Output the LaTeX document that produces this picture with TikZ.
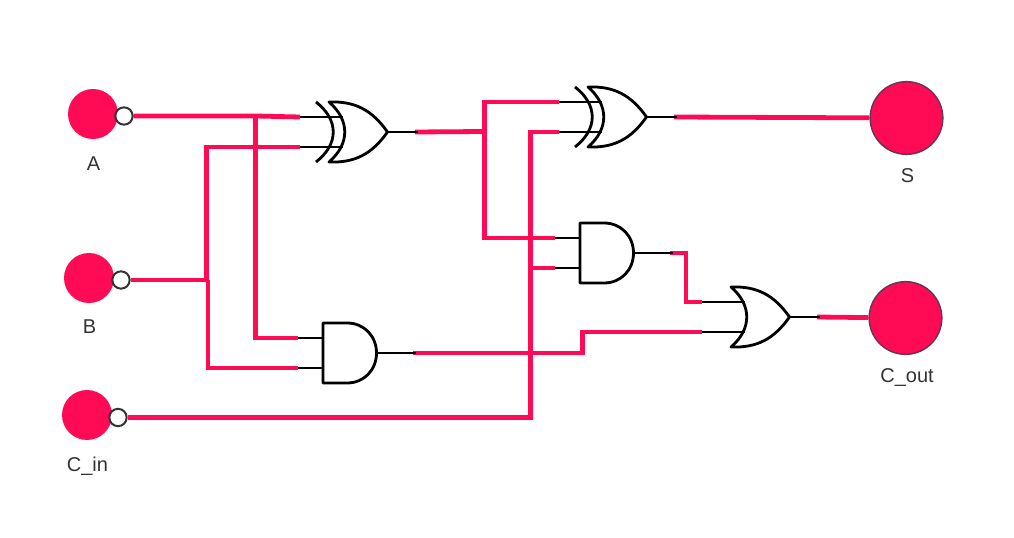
\documentclass[tikz,border=0pt]{standalone}
\usepackage{fontspec}
\setmainfont{Liberation Sans}
\usepackage{tikz}
\usetikzlibrary{backgrounds}
\definecolor{wirered}{HTML}{FF0A54}
\definecolor{pinrim}{HTML}{333333}
\definecolor{outrim}{HTML}{6E3350}
\tikzstyle{wire}=[draw=wirered,line width=3.6pt,line join=miter]
\tikzstyle{gateline}=[draw=black,line width=2.1pt,line join=round]
\tikzstyle{inport}=[circle,fill=wirered,minimum size=37.5pt,inner sep=0pt]
\tikzstyle{outport}=[circle,fill=wirered,draw=outrim,line width=1.1pt,minimum size=54.5pt,inner sep=0pt]
\tikzstyle{pin}=[circle,fill=white,draw=pinrim,line width=1.5pt,minimum size=13pt,inner sep=0pt]
\tikzstyle{label}=[anchor=base,text=pinrim,font=\fontsize{15}{18}\selectfont,inner sep=0pt]
\tikzset{
  pics/orgate/.style={code={
    \coordinate (-a) at (0,-15);
    \coordinate (-b) at (0,15);
    \coordinate (-o) at (115,0);
    \draw[gateline,fill=white] (29,-30) .. controls (55,-31) and (72,-22) .. (87.5,0)
      .. controls (72,22) and (55,31) .. (29,30) .. controls (50,12) and (50,-12) .. (29,-30) -- cycle;
    \draw[gateline] (-a) -- (42.5,-15);
    \draw[gateline] (-b) -- (42.5,15);
    \draw[gateline] (87.5,0) -- (118,0);
  }},
  pics/xorgate/.style={code={
    \draw[gateline] (16,-30) .. controls (39,-12) and (39,12) .. (16,30);
    \pic (-g) {orgate};
    \coordinate (-a) at (-g-a);
    \coordinate (-b) at (-g-b);
    \coordinate (-o) at (-g-o);
  }},
  pics/andgate/.style={code={
    \coordinate (-a) at (0,-15);
    \coordinate (-b) at (0,15);
    \coordinate (-o) at (115,0);
    \draw[gateline,fill=white] (25,-30) -- (49,-30) .. controls (66,-30) and (78.5,-17) .. (78.5,0)
      .. controls (78.5,17) and (66,30) .. (49,30) -- (25,30) -- cycle;
    \draw[gateline] (-a) -- (25,-15);
    \draw[gateline] (-b) -- (25,15);
    \draw[gateline] (78.5,0) -- (118,0);
  }}
}

\begin{document}
\begin{tikzpicture}[x=0.75pt,y=-0.75pt]
    \useasboundingbox (0,0) rectangle (1014,538);
    % ports
    \node[inport] (inA) at (93,114) {};
    \node[inport] (inB) at (89,278) {};
    \node[inport] (inC) at (87,415) {};
    \node[pin] (pinA) at (124,116) {};
    \node[pin] (pinB) at (121,280) {};
    \node[pin] (pinC) at (118,417.5) {};
    \node[outport] (outS) at (906.5,118) {};
    \node[outport] (outC) at (905.5,318) {};
    \node[label] (labA) at (93.5,170.5) {A};
    \node[label] (labB) at (89.5,334) {B};
    \node[label] (labC) at (87.5,471) {C\_in};
    \node[label] (labS) at (907.5,182.5) {S};
    \node[label] (labO) at (907,382.5) {C\_out};
    % gates
    \path (300,132) pic (xorA) {xorgate};
    \path (559,117) pic (xorB) {xorgate};
    \path (298,353) pic (andA) {andgate};
    \path (555,253) pic (andB) {andgate};
    \path (702,317) pic (orA) {orgate};
    % junctions
    \coordinate (jA) at (255.5,116);
    \coordinate (jBup) at (206.5,280);
    \coordinate (jBdn) at (208,280);
    \coordinate (jC) at (530.5,417.5);
    \coordinate (jX) at (484.5,131.5);
    \coordinate (jM) at (530.5,268);
    % wires
    \begin{scope}[on background layer]
    \draw[wire] (pinA.east) -- (jA) -- (xorA-a);
    \draw[wire] (jA) |- (andA-a);
    \draw[wire] (pinB.east) -- (jBdn);
    \draw[wire] (jBup) |- (xorA-b);
    \draw[wire] (jBdn) |- (andA-b);
    \draw[wire] (pinC.east) -- (jC) |- (xorB-b);
    \draw[wire] (jM) -- (andB-b);
    \draw[wire] (xorA-o) -- (jX);
    \draw[wire] (jX) |- (xorB-a);
    \draw[wire] (jX) |- (andB-a);
    \draw[wire] (andA-o) -| (582.5,332) -- (orA-b);
    \draw[wire] (andB-o) -| (686,302) -- (orA-a);
    \draw[wire] (xorB-o) -- (outS);
    \draw[wire] (orA-o) -- (outC);
    \end{scope}
\end{tikzpicture}
\end{document}
